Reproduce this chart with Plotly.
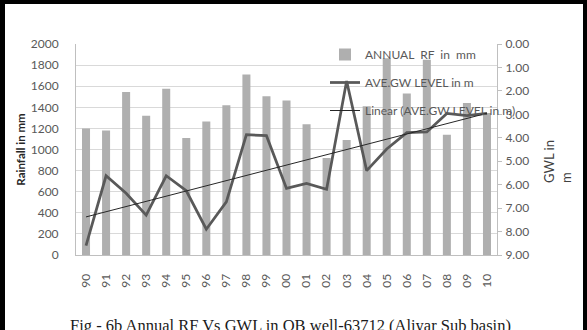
import numpy as np
import plotly.graph_objects as go

# Hydrological years (two-digit labels)
years = ["90", "91", "92", "93", "94", "95", "96", "97", "98", "99", "00",
         "01", "02", "03", "04", "05", "06", "07", "08", "09", "10"]

# Annual rainfall, mm
annual_rf = [1200, 1180, 1545, 1320, 1575, 1110, 1265, 1420, 1710, 1505, 1465,
             1240, 920, 1090, 1410, 1865, 1530, 1850, 1140, 1440, 1345]

# Average groundwater level below ground, m
ave_gwl = [8.60, 5.62, 6.37, 7.30, 5.62, 6.26, 7.90, 6.73, 3.87, 3.91, 6.16,
           5.95, 6.20, 1.58, 5.40, 4.48, 3.78, 3.75, 2.96, 3.06, 2.96]

rf_ticks = list(range(0, 2001, 200))
gwl_ticks = list(range(0, 10))
gwl_tick_text = [f"{v:.2f}" for v in gwl_ticks]

# Least-squares linear trend of the groundwater level
idx = np.arange(len(ave_gwl))
slope, intercept = np.polyfit(idx, ave_gwl, 1)
gwl_trend = slope * idx + intercept

W, H = 587, 330
# Plot-area edges in pixels (left, right, top, bottom)
PL, PR, PT, PB = 76, 497, 44, 255


def fx(p):
    return p / W


def fy(p):
    return 1 - p / H


TICK_FONT = dict(family="Lato", size=12, color="#595959")
GRID = "#d9d9d9"
AXIS = "#bfbfbf"

fig = go.Figure()

fig.add_trace(go.Bar(
    x=years, y=annual_rf, name="ANNUAL  RF  in  mm",
    marker=dict(color="#afafaf", line=dict(width=0)),
    legendgroup="a", xaxis="x", yaxis="y",
))
fig.add_trace(go.Scatter(
    x=years, y=ave_gwl, name="AVE.GW LEVEL in m", mode="lines",
    line=dict(color="#595959", width=2.75),
    legendgroup="b", xaxis="x", yaxis="y2",
))
fig.add_trace(go.Scatter(
    x=years, y=gwl_trend, name="Linear (AVE.GW LEVEL in m)", mode="lines",
    line=dict(color="#262626", width=1),
    legendgroup="c", xaxis="x", yaxis="y2",
))

# Black page frame (top, left and right bands), drawn on a full-page
# pixel-scaled helper subplot
frame_x, frame_y = [], []
for x0, x1, y0, y1 in [(0, W, 0, 4), (0, 5, 0, H), (583, W, 0, H)]:
    frame_x += [x0, x1, x1, x0, x0, None]
    frame_y += [y0, y0, y1, y1, y0, None]
fig.add_trace(go.Scatter(
    x=frame_x, y=frame_y, mode="lines", fill="toself",
    fillcolor="black", line=dict(width=0, color="black"),
    showlegend=False, hoverinfo="skip", xaxis="x3", yaxis="y3",
))

fig.update_layout(
    width=W, height=H,
    margin=dict(l=0, r=0, t=0, b=0, pad=0),
    paper_bgcolor="white", plot_bgcolor="rgba(0,0,0,0)",
    bargap=0.6,
    showlegend=True,
    legend=dict(
        x=fx(325), y=fy(40), xanchor="left", yanchor="top",
        bgcolor="rgba(0,0,0,0)", borderwidth=0,
        font=dict(family="Lato", size=12, color="#595959"),
        traceorder="grouped", tracegroupgap=9,
        itemwidth=30,
    ),
    xaxis=dict(
        domain=[fx(PL), fx(PR)], anchor="y", automargin=False,
        type="category", tickangle=-90, tickfont=TICK_FONT,
        showline=True, linecolor=AXIS, linewidth=1,
        showgrid=False, ticks="", ticklabelstandoff=13,
    ),
    yaxis=dict(
        domain=[fy(PB), fy(PT)], anchor="x", automargin=False,
        range=[0, 2000], tickvals=rf_ticks, tickfont=TICK_FONT,
        showgrid=True, gridcolor=GRID, gridwidth=1,
        showline=True, linecolor=AXIS, linewidth=1,
        ticks="", ticklabelstandoff=14, zeroline=False,
        title=dict(text="<b>Rainfall in mm</b>",
                   font=dict(family="Lato", size=11.5, color="#262626"),
                   standoff=2),
    ),
    yaxis2=dict(
        range=[9, 0], overlaying="y", side="right", anchor="x",
        automargin=False,
        tickvals=gwl_ticks, ticktext=gwl_tick_text, tickfont=TICK_FONT,
        showgrid=False, zeroline=False,
        showline=True, linecolor=AXIS, linewidth=1,
        ticks="outside", ticklen=4, tickcolor=AXIS, ticklabelstandoff=1,
    ),
    xaxis3=dict(domain=[0, 1], anchor="y3", range=[0, W], visible=False,
                fixedrange=True),
    yaxis3=dict(domain=[0, 1], anchor="x3", range=[H, 0], visible=False,
                fixedrange=True),
    annotations=[
        dict(text="GWL in<br>m", textangle=-90, align="left",
             xref="paper", yref="paper", x=fx(557), y=fy(162),
             xanchor="center", yanchor="middle", showarrow=False,
             font=dict(family="Lato", size=13, color="#404040")),
        dict(text="Fig - 6b Annual RF Vs GWL in OB well-63712 (Aliyar Sub basin)",
             xref="paper", yref="paper", x=fx(290), y=fy(314),
             xanchor="center", yanchor="top", showarrow=False,
             font=dict(family="Liberation Serif", size=16.5, color="#1a1a1a")),
    ],
)

fig.write_html("out.html")
